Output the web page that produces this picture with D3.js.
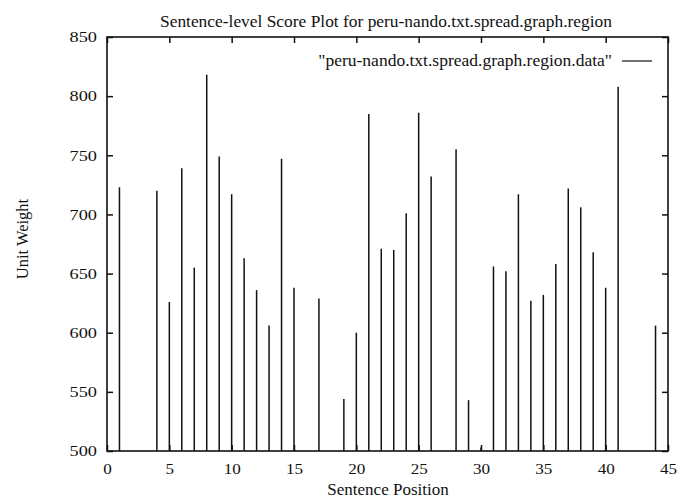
<!DOCTYPE html>
<html>
<head>
<meta charset="utf-8">
<script src="https://cdn.jsdelivr.net/npm/d3@7"></script>
<style>
  html, body { margin: 0; padding: 0; background: #fff; }
  svg { display: block; }
</style>
</head>
<body>
<svg id="chart" width="677" height="499"></svg>
<script>
// Sentence positions and their unit weights (impulse plot)
const positions = [1, 4, 5, 6, 7, 8, 9, 10, 11, 12, 13, 14, 15, 17, 19, 20, 21, 22, 23, 24, 25, 26, 28, 29, 30, 31, 32, 33, 34, 35, 36, 37, 38, 39, 40, 41, 44];
const weights   = [723, 720, 626, 739, 655, 818, 749, 717, 663, 636, 606, 747, 638, 629, 544, 600, 785, 671, 670, 701, 786, 732, 755, 543, 503, 656, 652, 717, 627, 632, 658, 722, 706, 668, 638, 808, 606];
const xTicks = [0, 5, 10, 15, 20, 25, 30, 35, 40, 45];
const yTicks = [500, 550, 600, 650, 700, 750, 800, 850];
const titleText = "Sentence-level Score Plot for peru-nando.txt.spread.graph.region";
const legendText = "\"peru-nando.txt.spread.graph.region.data\"";
const xLabel = "Sentence Position";
const yLabel = "Unit Weight";

const W = 677, H = 499;
const margin = { left: 107, right: 9, top: 37, bottom: 48 };
const serif = "'Liberation Serif', 'DejaVu Serif', serif";
const ink = "#111";
const tickLen = 6;
const tickFont = 15;      // tick numerals are set wide
const yStretch = 1.22;
const xStretch = 1.14;

const svg = d3.select("#chart");

const x = d3.scaleLinear().domain([0, 45]).range([margin.left, W - margin.right]);
const y = d3.scaleLinear().domain([500, 850]).range([H - margin.bottom, margin.top]);

// impulses
const data = positions.map((p, i) => ({ p, v: weights[i] }));
svg.append("g").selectAll("line").data(data).join("line")
  .attr("x1", d => x(d.p)).attr("x2", d => x(d.p))
  .attr("y1", y(500)).attr("y2", d => y(d.v))
  .attr("stroke", ink).attr("stroke-width", 1.5);

// axes with inward ticks, mirrored on opposite sides
const axBottom = d3.axisBottom(x).tickValues(xTicks).tickSize(-tickLen).tickFormat(d3.format("d"));
const axTop = d3.axisTop(x).tickValues(xTicks).tickSize(-tickLen).tickFormat("");
const axLeft = d3.axisLeft(y).tickValues(yTicks).tickSize(-tickLen).tickFormat(d3.format("d"));
const axRight = d3.axisRight(y).tickValues(yTicks).tickSize(-tickLen).tickFormat("");

function style(g) {
  g.attr("font-family", null).attr("font-size", null);
  g.select(".domain").remove();
  g.selectAll(".tick line").attr("stroke", ink).attr("stroke-width", 1.5);
  g.selectAll(".tick text")
    .style("font-family", serif).style("font-size", tickFont + "px").attr("fill", ink);
}
svg.append("g").attr("transform", `translate(0,${H - margin.bottom})`).call(axBottom).call(style)
  .selectAll(".tick text")
  .attr("x", 0).attr("y", 0).attr("dy", null)
  .attr("transform", `translate(0,23) scale(${xStretch},1)`);
svg.append("g").attr("transform", `translate(0,${margin.top})`).call(axTop).call(style);
svg.append("g").attr("transform", `translate(${margin.left},0)`).call(axLeft).call(style)
  .selectAll(".tick text")
  .attr("x", 0)
  .attr("transform", `translate(-10,0) scale(${yStretch},1)`);
svg.append("g").attr("transform", `translate(${W - margin.right},0)`).call(axRight).call(style);

// frame
svg.append("rect")
  .attr("x", margin.left).attr("y", margin.top)
  .attr("width", W - margin.left - margin.right)
  .attr("height", H - margin.top - margin.bottom)
  .attr("fill", "none").attr("stroke", ink).attr("stroke-width", 1.6);

function label(sel, size) {
  return sel.style("font-family", serif).style("font-size", size + "px").attr("fill", ink);
}

// title
svg.append("text")
  .attr("x", 386).attr("y", 26.5)
  .attr("text-anchor", "middle")
  .call(label, 17.4)
  .text(titleText);

// legend
svg.append("text")
  .attr("x", 612).attr("y", 66)
  .attr("text-anchor", "end")
  .call(label, 17.5)
  .text(legendText);
svg.append("line")
  .attr("x1", 622).attr("x2", 652).attr("y1", 61).attr("y2", 61)
  .attr("stroke", ink).attr("stroke-width", 1.2);

// axis titles
svg.append("text")
  .attr("x", 388).attr("y", 495)
  .attr("text-anchor", "middle")
  .call(label, 17)
  .text(xLabel);
svg.append("text")
  .attr("transform", "translate(28,239) rotate(-90)")
  .attr("text-anchor", "middle")
  .call(label, 16.5)
  .text(yLabel);
</script>
</body>
</html>
